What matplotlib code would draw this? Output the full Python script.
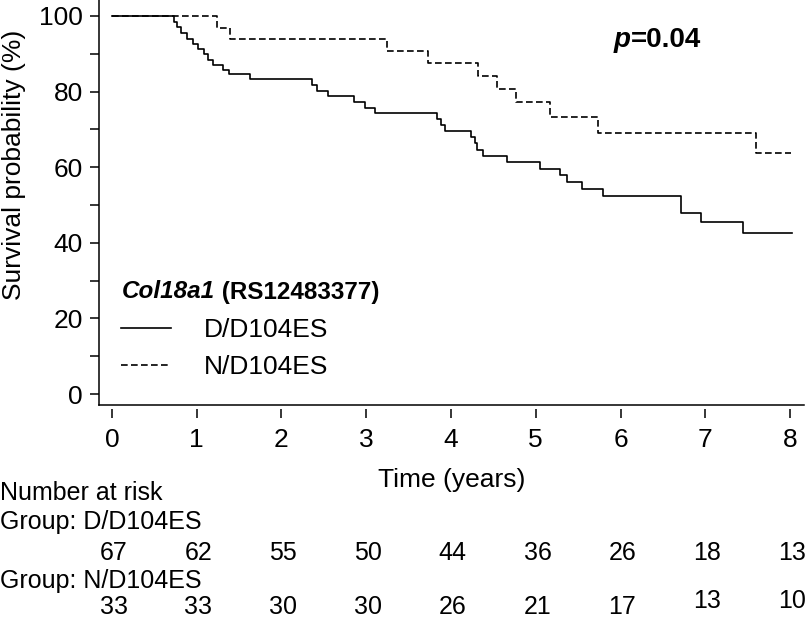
import matplotlib
matplotlib.use("Agg")
import matplotlib.pyplot as plt
import matplotlib.transforms as mtransforms

plt.rcParams['font.family'] = ['Liberation Sans', 'DejaVu Sans']

# Kaplan-Meier steps (time in years, survival in %)
dd_times = [0.73, 0.77, 0.81, 0.88, 0.96, 1.02, 1.08, 1.13, 1.19, 1.31, 1.38, 1.63,
            2.36, 2.42, 2.55, 2.85, 2.98, 3.10, 3.84, 3.88, 3.93, 4.24, 4.28, 4.31,
            4.38, 4.66, 5.05, 5.29, 5.37, 5.55, 5.79, 6.71, 6.95, 7.44]
dd_surv = [98.5, 97.0, 95.5, 94.0, 92.6, 91.2, 89.8, 88.4, 87.0, 85.6, 84.7, 83.4,
           81.7, 80.2, 78.7, 77.2, 75.7, 74.3, 72.8, 71.2, 69.6, 68.1, 66.3, 64.6,
           63.0, 61.4, 59.6, 57.9, 56.1, 54.3, 52.3, 47.9, 45.4, 42.5]
dd_end = 8.02

nd_times = [1.24, 1.39, 3.25, 3.73, 4.32, 4.54, 4.77, 5.17, 5.74, 7.60]
nd_surv = [96.9, 93.9, 90.7, 87.6, 84.1, 80.6, 77.1, 73.3, 69.1, 63.7]
nd_end = 8.01

risk_times = [0, 1, 2, 3, 4, 5, 6, 7, 8]
risk_dd = [67, 62, 55, 50, 44, 36, 26, 18, 13]
risk_nd = [33, 33, 30, 30, 26, 21, 17, 13, 10]

W, H = 809, 621
fig = plt.figure(figsize=(W / 100, H / 100), dpi=100)
ax = fig.add_axes([99 / W, (H - 405) / H, 705 / W, 405 / H])

fs = 19
fs_tab = 18


def km(times, surv, end):
    x = [0] + times + [end]
    y = [100] + surv + [surv[-1]]
    return x, y


def fy(py):
    # pixel row from top -> figure fraction
    return 1 - py / H


x1, y1 = km(dd_times, dd_surv, dd_end)
x2, y2 = km(nd_times, nd_surv, nd_end)
ax.step(x1, y1, where='post', color='black', lw=1.2, label='D/D104ES')
ax.step(x2, y2, where='post', color='black', lw=1.2, dashes=(4, 2), label='N/D104ES')

ax.set_xlim(-0.153, 8.165)
ax.set_ylim(-2.9, 104.2)

# axis styling: ticks on x sit just below the bottom line
for s in ['top', 'right']:
    ax.spines[s].set_visible(False)
ax.spines['left'].set_linewidth(1.1)
ax.spines['bottom'].set_position(('outward', 3))
ax.spines['bottom'].set_visible(False)
ax.plot([0, 1], [0, 0], transform=ax.transAxes, color='black', lw=1.1, clip_on=False)

ax.set_xticks(risk_times)
ax.set_yticks([0, 20, 40, 60, 80, 100])
ax.set_yticks([10, 30, 50, 70, 90], minor=True)
ax.tick_params(axis='x', length=6.5, width=1.1, pad=7, labelsize=fs)
ax.tick_params(axis='y', which='both', length=6.5, width=1.1, pad=5, labelsize=fs)

ax.set_xlabel('Time (years)', fontsize=fs)
ax.xaxis.set_label_coords(0.5, -0.155)
ax.set_ylabel('Survival probability (%)', fontsize=fs)
ax.yaxis.set_label_coords(-0.103, 0.593)

# p-value
p1 = fig.text(614 / W, fy(40), 'p', fontsize=20, fontweight='bold',
              style='italic', va='center', ha='left')
ax.annotate('=0.04', xy=(1, 0), xycoords=p1, fontsize=20, fontweight='bold',
            va='bottom', ha='left')

# gene title
g1 = fig.text(122 / W, fy(292), 'Col18a1', fontsize=17.5, fontweight='bold',
              style='italic', va='center', ha='left')
ax.annotate(' (RS12483377)', xy=(1, 0), xycoords=g1, fontsize=17.5, fontweight='bold',
            va='bottom', ha='left')

ax.legend(loc='upper left', bbox_to_anchor=(121 / W, fy(318)),
          bbox_transform=fig.transFigure, frameon=False, fontsize=fs,
          handlelength=1.9, handletextpad=1.25, labelspacing=0.5, borderpad=0,
          borderaxespad=0)

# number at risk table
tr = mtransforms.blended_transform_factory(ax.transData, fig.transFigure)
fig.text(0, fy(493), 'Number at risk', fontsize=fs_tab, va='center', ha='left')
fig.text(0, fy(522), 'Group: D/D104ES', fontsize=fs_tab, va='center', ha='left')
fig.text(0, fy(581), 'Group: N/D104ES', fontsize=fs_tab, va='center', ha='left')
for t, n in zip(risk_times, risk_dd):
    ax.text(t + 0.02, fy(553), str(n), transform=tr, fontsize=fs_tab, va='center', ha='center')
for t, n in zip(risk_times, risk_nd):
    yy = 601 if t >= 7 else 607
    ax.text(t + 0.02, fy(yy), str(n), transform=tr, fontsize=fs_tab, va='center', ha='center')

fig.savefig('out.png', dpi=100)
